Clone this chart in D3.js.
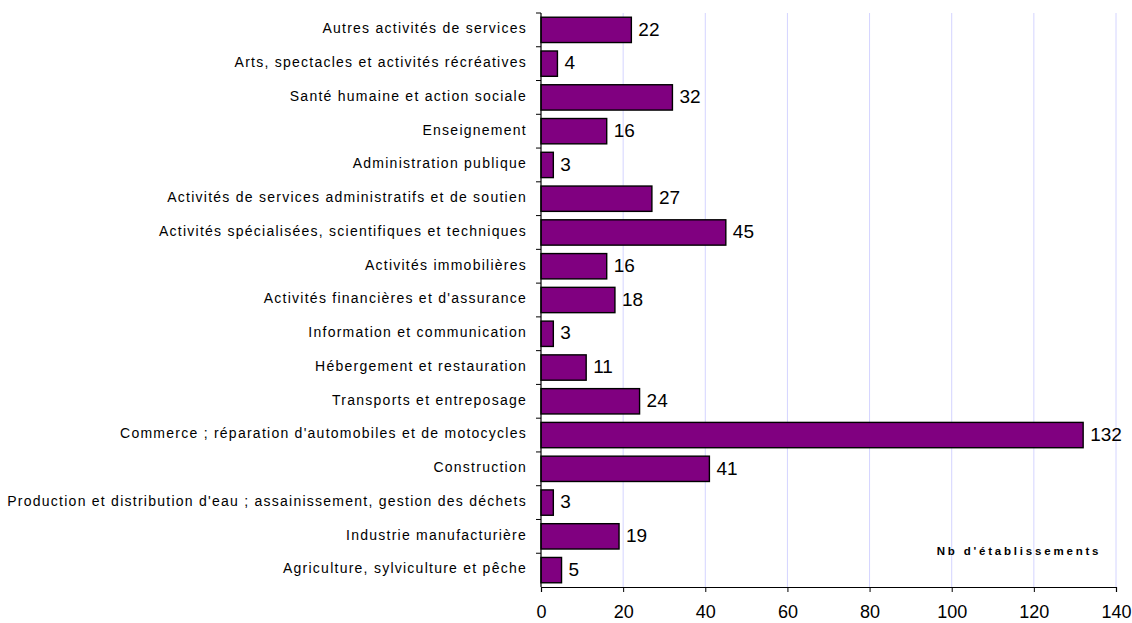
<!DOCTYPE html>
<html><head><meta charset="utf-8">
<script src="https://cdn.jsdelivr.net/npm/d3@7"></script>
<style>body{margin:0;background:#fff}svg{display:block;font-family:Arial,"Liberation Sans",sans-serif}</style>
</head><body><svg id="c" width="1132" height="623"></svg>
<script>
const categories = [
 "Autres activités de services",
 "Arts, spectacles et activités récréatives",
 "Santé humaine et action sociale",
 "Enseignement",
 "Administration publique",
 "Activités de services administratifs et de soutien",
 "Activités spécialisées, scientifiques et techniques",
 "Activités immobilières",
 "Activités financières et d'assurance",
 "Information et communication",
 "Hébergement et restauration",
 "Transports et entreposage",
 "Commerce ; réparation d'automobiles et de motocycles",
 "Construction",
 "Production et distribution d'eau ; assainissement, gestion des déchets",
 "Industrie manufacturière",
 "Agriculture, sylviculture et pêche"
];
const values = [22,4,32,16,3,27,45,16,18,3,11,24,132,41,3,19,5];
const xTicks = [0,20,40,60,80,100,120,140];
const axisTitle = "Nb d'établissements";

(function(){
const svg = d3.select("#c");
const pL = 541, pR = 1116, pT = 13, pB = 587;
const x = d3.scaleLinear().domain([0,140]).range([pL,pR]);
const y = d3.scaleBand().domain(categories).range([pT,pB]).paddingInner(0.25).paddingOuter(0.125);

svg.append("g").selectAll("line").data(xTicks.filter(d=>d>0)).join("line")
 .attr("x1",d=>x(d)).attr("x2",d=>x(d)).attr("y1",pT).attr("y2",pB)
 .attr("stroke","#d4d4ff").attr("stroke-width",1);

svg.append("g").selectAll("rect").data(values).join("rect")
 .attr("x",x(0)).attr("y",(d,i)=>y(categories[i]))
 .attr("width",d=>x(d)-x(0)).attr("height",y.bandwidth())
 .attr("fill","#800080").attr("stroke","#000").attr("stroke-width",1.4);

svg.append("g").selectAll("text").data(values).join("text")
 .attr("x",d=>x(d)+7).attr("y",(d,i)=>y(categories[i])+y.bandwidth()/2)
 .attr("dy","0.3em").attr("font-size",19).attr("fill","#000").text(d=>d);

const xa = svg.append("g").attr("transform",`translate(0,${pB})`)
 .call(d3.axisBottom(x).tickValues(xTicks).tickSize(5).tickPadding(13));
xa.select(".domain").attr("stroke","#000").attr("stroke-width",1.2);
xa.selectAll(".tick line").attr("stroke","#000");
xa.selectAll("text").attr("font-size",18).attr("font-family","Arial,'Liberation Sans',sans-serif").attr("fill","#000");

svg.append("line").attr("x1",pL).attr("x2",pL).attr("y1",pT).attr("y2",pB).attr("stroke","#000").attr("stroke-width",1.2);
const step = y.step();
const bounds = d3.range(categories.length).map(i=>pT+i*step);
svg.append("g").selectAll("line").data(bounds).join("line")
 .attr("x1",pL-5).attr("x2",pL).attr("y1",d=>d).attr("y2",d=>d).attr("stroke","#000");

svg.append("g").selectAll("text").data(categories).join("text")
 .attr("x",527).attr("y",d=>y(d)+y.bandwidth()/2).attr("dy","0.24em")
 .attr("text-anchor","end").attr("font-size",14).attr("letter-spacing","1.25px").attr("fill","#000").text(d=>d);

svg.append("text").attr("x",1019).attr("y",555).attr("text-anchor","middle")
 .attr("font-size",11.5).attr("font-weight","bold").attr("letter-spacing","2.8px").text(axisTitle);
})();
</script></body></html>
